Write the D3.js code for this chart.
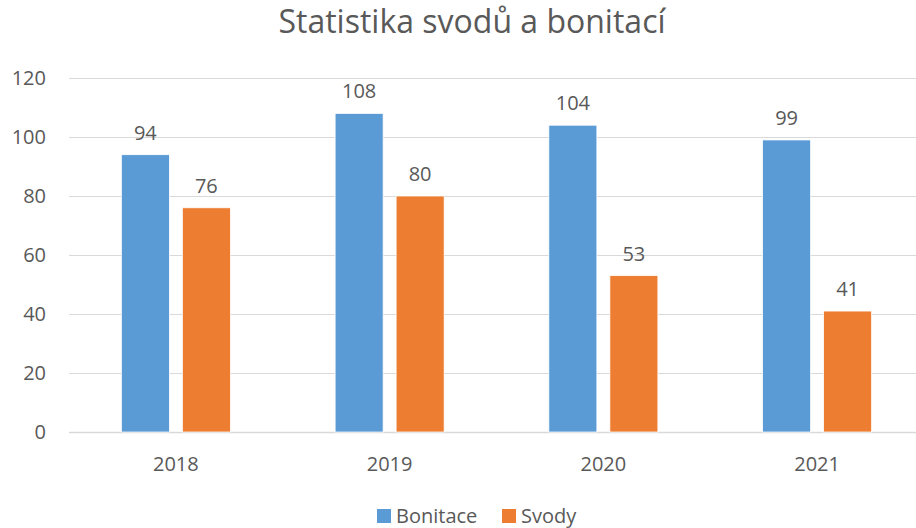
<!DOCTYPE html>
<html>
<head>
<meta charset="utf-8">
<script src="https://cdn.jsdelivr.net/npm/d3@7"></script>
<style>
  body { margin: 0; background: #fff; }
  svg { display: block; }
  text { font-family: "Open Sans", "Noto Sans", sans-serif; fill: #595959; }
</style>
</head>
<body>
<svg id="chart" width="916" height="528"></svg>
<script>
  var years = ["2018", "2019", "2020", "2021"];
  var seriesNames = ["Bonitace", "Svody"];
  var bonitace = [94, 108, 104, 99];
  var svody = [76, 80, 53, 41];
  var yTicks = [0, 20, 40, 60, 80, 100, 120];
  var colors = ["#5b9bd5", "#ed7d31"];

  var svg = d3.select("#chart");
  var plot = { left: 69, right: 924, top: 78, bottom: 432 };
  var labelSize = "20px";

  // group band per year
  var x0 = d3.scaleBand()
    .domain(years)
    .range([plot.left, plot.right])
    .paddingInner(0.49)
    .paddingOuter(0.245);

  var x1 = d3.scaleBand()
    .domain(seriesNames)
    .range([0, x0.bandwidth()])
    .paddingInner(0.213);

  var y = d3.scaleLinear()
    .domain([0, 120])
    .range([plot.bottom, plot.top]);

  // gridlines
  svg.append("g")
    .selectAll("line")
    .data(yTicks)
    .join("line")
    .attr("x1", plot.left)
    .attr("x2", plot.right)
    .attr("y1", function (d) { return Math.round(y(d)) + 0.5; })
    .attr("y2", function (d) { return Math.round(y(d)) + 0.5; })
    .attr("stroke", "#d9d9d9")
    .attr("stroke-width", function (d) { return d === 0 ? 1.5 : 1; });

  // y tick labels
  svg.append("g")
    .selectAll("text")
    .data(yTicks)
    .join("text")
    .attr("x", 46)
    .attr("y", function (d) { return y(d) + 7; })
    .attr("text-anchor", "end")
    .style("font-size", labelSize)
    .text(function (d) { return d; });

  var rows = years.map(function (yr, i) {
    return { year: yr, values: [
      { name: seriesNames[0], value: bonitace[i] },
      { name: seriesNames[1], value: svody[i] }
    ] };
  });

  var groups = svg.append("g")
    .selectAll("g")
    .data(rows)
    .join("g")
    .attr("transform", function (d) { return "translate(" + x0(d.year) + ",0)"; });

  groups.selectAll("rect")
    .data(function (d) { return d.values; })
    .join("rect")
    .attr("x", function (d) { return x1(d.name); })
    .attr("y", function (d) { return y(d.value); })
    .attr("width", x1.bandwidth())
    .attr("height", function (d) { return y(0) - y(d.value); })
    .attr("fill", function (d, i) { return colors[i]; })
    .attr("stroke", "#fff")
    .attr("stroke-width", 0.75);

  // data labels
  groups.selectAll("text")
    .data(function (d) { return d.values; })
    .join("text")
    .attr("x", function (d) { return x1(d.name) + x1.bandwidth() / 2; })
    .attr("y", function (d) { return y(d.value) - 15; })
    .attr("text-anchor", "middle")
    .style("font-size", labelSize)
    .text(function (d) { return d.value; });

  // category labels
  svg.append("g")
    .selectAll("text")
    .data(years)
    .join("text")
    .attr("x", function (d) { return x0(d) + x0.bandwidth() / 2; })
    .attr("y", 471)
    .attr("text-anchor", "middle")
    .style("font-size", labelSize)
    .text(function (d) { return d; });

  // title
  svg.append("text")
    .attr("x", 472)
    .attr("y", 33)
    .attr("text-anchor", "middle")
    .style("font-size", "32px")
    .text("Statistika svodů a bonitací");

  // legend
  var legendX = [377, 502];
  var legend = svg.append("g")
    .selectAll("g")
    .data(seriesNames)
    .join("g")
    .attr("transform", function (d, i) { return "translate(" + legendX[i] + ",509)"; });

  legend.append("rect")
    .attr("width", 14)
    .attr("height", 14)
    .attr("fill", function (d, i) { return colors[i]; });

  legend.append("text")
    .attr("x", 19)
    .attr("y", 14)
    .style("font-size", labelSize)
    .text(function (d) { return d; });
</script>
</body>
</html>
